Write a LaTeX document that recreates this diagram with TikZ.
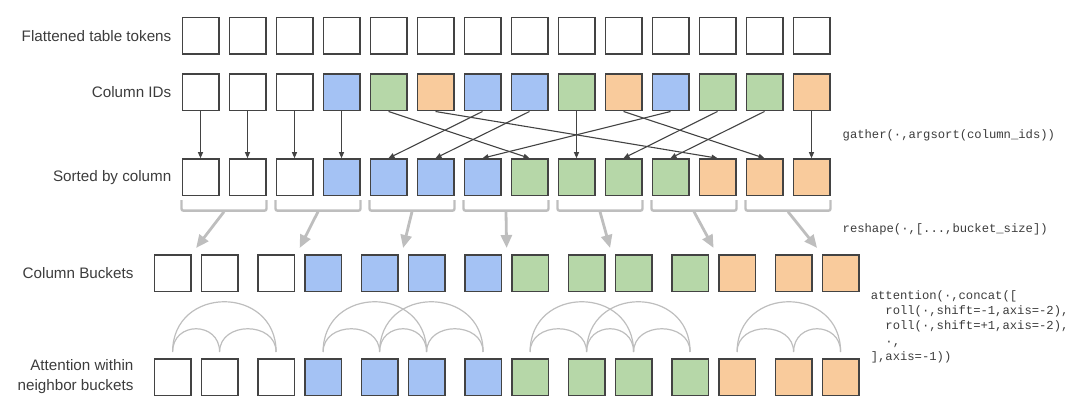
\documentclass[tikz,border=0pt]{standalone}
\usepackage{fontspec}
\setmainfont{Liberation Sans}
\newfontfamily\codefont{Liberation Mono}
\usetikzlibrary{arrows.meta, positioning, calc}
\definecolor{idblue}{RGB}{164,194,244}
\definecolor{idgreen}{RGB}{182,215,168}
\definecolor{idorange}{RGB}{249,203,156}
\definecolor{cellline}{RGB}{67,67,67}
\definecolor{softgray}{RGB}{190,190,190}
\definecolor{labelgray}{RGB}{60,60,60}

\begin{document}
\begin{tikzpicture}[
    x=1pt, y=1pt,
    cell/.style={rectangle, draw=cellline, line width=1.5pt, minimum size=36.5pt, inner sep=0pt, fill=white},
    rowlabel/.style={font=\fontsize{15.2}{20}\selectfont, text=labelgray, align=right, inner sep=0pt},
    code/.style={font=\codefont\fontsize{12.2}{15.3}\selectfont, text=labelgray, align=left, inner sep=0pt, anchor=west},
    gatherarrow/.style={-{Triangle[length=6pt, width=5pt]}, line width=1.1pt, cellline},
    bracket/.style={line width=2.4pt, softgray, rounded corners=2pt},
    bucketarrow/.style={-{Triangle[length=13pt, width=11pt]}, line width=2.8pt, softgray},
    attnshort/.style={line width=1.2pt, softgray, out=90, in=90, distance=31pt},
    attnlong/.style={line width=1.2pt, softgray, out=90, in=90, distance=67pt}
]
\useasboundingbox (0,0) rectangle (1080,-409);

% Flattened tokens and column ids
\foreach \i in {1,...,14}
  \node[cell] (t\i) at ({200.5+47*(\i-1)}, -35.8) {};
\foreach \c [count=\i] in {white,white,white,idblue,idgreen,idorange,idblue,idblue,idgreen,idorange,idblue,idgreen,idgreen,idorange}
  \node[cell, fill=\c] (c\i) at ({200.5+47*(\i-1)}, -92.5) {};

% Sorted by column
\foreach \c [count=\i] in {white,white,white,idblue,idblue,idblue,idblue,idgreen,idgreen,idgreen,idgreen,idorange,idorange,idorange}
  \node[cell, fill=\c] (s\i) at ({200.5+47*(\i-1)}, -177.2) {};

% Buckets and attention rows
\foreach \c [count=\i] in {white,white,white,idblue,idblue,idblue,idblue,idgreen,idgreen,idgreen,idgreen,idorange,idorange,idorange} {
  \pgfmathsetmacro\bx{172.6+103.5*int((\i-1)/2)+47*mod(\i-1,2)}
  \node[cell, fill=\c] (b\i) at (\bx, -273) {};
  \node[cell, fill=\c] (a\i) at (\bx, -377) {};
}

% Row labels
\node[rowlabel, left=10pt of t1] (lflat) {Flattened table tokens};
\node[rowlabel, left=10pt of c1] (lids) {Column IDs};
\node[rowlabel, left=10pt of s1] (lsort) {Sorted by column};
\node[rowlabel, left=20pt of b1] (lbuck) {Column Buckets};
\node[rowlabel, left=20pt of a1] (lattn) {Attention within\\neighbor buckets};

% Gather arrows
\foreach \src/\dst in {1/1,2/2,3/3,4/4,7/5,8/6,11/7,5/8,9/9,12/10,13/11,6/12,10/13,14/14}
  \draw[gatherarrow] (c\src.south) -- (s\dst.north);

% Brackets and reshape arrows
\foreach \k [evaluate=\k as \lo using int(2*\k-1), evaluate=\k as \hi using int(2*\k)] in {1,...,7} {
  \draw[bracket] ([yshift=-4pt]s\lo.south west) -- ([yshift=-14.5pt]s\lo.south west)
    -- ([yshift=-14.5pt]s\hi.south east) -- ([yshift=-4pt]s\hi.south east);
  \coordinate (m\k) at ($(s\lo.south west)!0.5!(s\hi.south east)+(0,-15.5)$);
  \coordinate (n\k) at ($(b\lo.north)!0.5!(b\hi.north)+(0,6)$);
  \draw[bucketarrow] (m\k) -- (n\k);
}

% Attention arcs
\foreach \p/\q in {1/2,2/3,4/5,5/6,6/7,8/9,9/10,10/11,12/13,13/14}
  \draw[attnshort] ([yshift=6pt]a\p.north) to ([yshift=6pt]a\q.north);
\foreach \p/\q in {1/3,4/6,5/7,8/10,9/11,12/14}
  \draw[attnlong] ([yshift=6pt]a\p.north) to ([yshift=6pt]a\q.north);

% Code
\node[code] (gather) at (842.5,-135) {gather(·,argsort(column\_ids))};
\node[code] (reshape) at (842.5,-229) {reshape(·,[...,bucket\_size])};
\node[code] (attn) at (870.6,-326.6) {attention(·,concat([\\\phantom{xx}roll(·,shift=-1,axis=-2),\\\phantom{xx}roll(·,shift=+1,axis=-2),\\\phantom{xx}·,\\],axis=-1))};

\end{tikzpicture}
\end{document}
